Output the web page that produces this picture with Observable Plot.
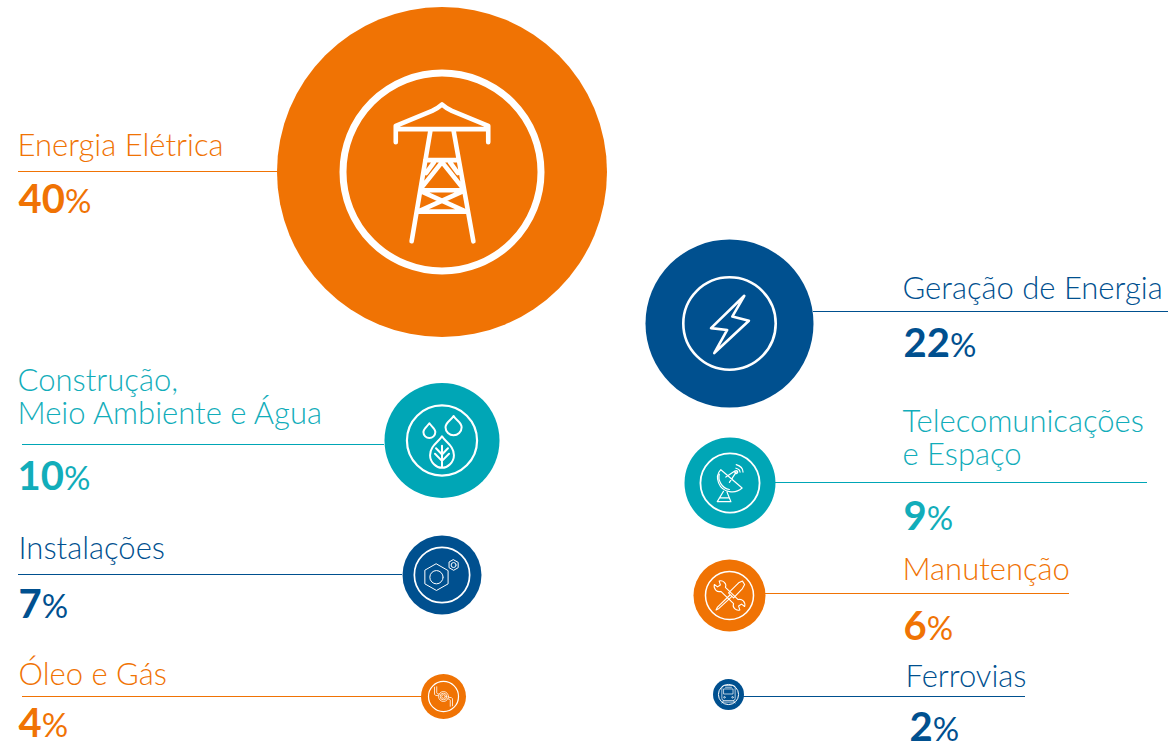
<!DOCTYPE html>
<html><head><meta charset="utf-8">
<style>html,body{margin:0;padding:0;background:#fff}svg{display:block}</style>
<script src="https://cdn.jsdelivr.net/npm/d3@7"></script>
<script src="https://cdn.jsdelivr.net/npm/@observablehq/plot@0.6"></script>
</head><body><div id="chart"></div>
<script>
// Data
const categories = ["Energia Elétrica","Geração de Energia","Construção,\nMeio Ambiente e Água","Telecomunicações\ne Espaço","Instalações","Manutenção","Óleo e Gás","Ferrovias"];
const shares = [40,22,10,9,7,6,4,2];
const orange="#F07304", navy="#00508F", teal="#00A6B6";
const colors = [orange,navy,teal,teal,navy,orange,orange,navy];
const textColors = [orange,navy,"#12ADBA","#12ADBA",navy,orange,orange,navy];

// Layout (not data): the infographic places each bubble by hand
const layout = {
  cx:[441.5,729,441.5,729.5,441.5,729,443,728],
  cy:[171.5,323,440,482.5,574.5,595,696,694],
  ruleFrom:[18,813,22,775,18,765,22,743],
  ruleTo:[277,1168,384,1147,402,1069,421,1025],
  ruleY:[171,311,444,482,574,593,696,696],
  labelX:[17,902,17,902,18,902,18,905],
  labelY:[155,298,423,464,558,579,684,686],
  valueX:[18,903,17,903,18,903,18,909],
  valueY:[212,356,489,529,617,639,736,740],
  ringRatio:[.6,.55,.61,.65,.7,.667,.667,.65],
  ringWidth:[7,2.6,2.2,1.8,1.7,1.5,1.2,1],
  iconWidth:[4.6,2.6,2,1.2,1,1.1,.8,.7]
};
const radiusDomain=[2,4,6,7,9,10,22,40], radiusRange=[15.5,22.5,36,39.5,45.5,57.5,84,165];

// Icon outlines in units where the inner ring has radius 100
const icons = [
 "M-46.7,-30L-46.7,-46.7L-10,-61.7Q-5,-64 0,-68.3Q5,-64 10,-61.7L46.7,-46.7L46.7,-30M-46.7,-43.3L46.7,-43.3M-11.7,-41.7L-30.7,70M11.7,-41.7L31.7,70M-17,-12L17,-12M-20,15L0,-10L20,15M-16,1L-8,-10M16,1L8,-10M-22,18.5L22,18.5M-22,19L22,39M22,19L-22,39M-25,40L25,40",
 "M32,-60L-40,10L-5,14L-33,64L42,-6L6,-15Z",
 "M-36,-49C-30,-40 -19,-34 -19,-24C-19,-14 -27,-7 -36,-7C-45,-7 -53,-14 -53,-24C-53,-34 -42,-40 -36,-49ZM33,-70C40,-58 56,-52 56,-38C56,-25 45,-15 33,-15C21,-15 10,-25 10,-38C10,-52 26,-58 33,-70ZM0,-12C10,5 34,15 34,42C34,62 16,78 0,78C-16,78 -34,62 -34,42C-34,15 -10,5 0,-12ZM0,15L0,78M0,40L-17,22M0,40L17,22M0,58L-20,38M0,58L20,38",
 "M-31,-45C-55,-20 -37,24 -2,29C15,33 32,25 41,17ZM-36,-30C-42,-10 -28,18 -2,22M-2,-2L21,-37M-14,-20L15,-40M21,-62Q44,-55 44,-37M20,-50Q33,-47 34,-37M-22,28L-43,63L3,63L-10,31M-36,50L-5,50O21,-37,5",
 "M-20,-40L22,-16L22,32L-20,56L-62,32L-62,-16ZO-20,8,24M42,-55L58.5,-45.5L58.5,-26.5L42,-17L25.5,-26.5L25.5,-45.5ZO42,-36,9",
 "M-36,-17C-52,-12 -68,-28 -63,-46L-50,-36L-38,-44L-43,-60C-27,-65 -10,-50 -17,-34L36,17C52,12 68,28 63,46L50,36L38,44L43,60C27,65 10,50 17,34ZM38,-53L54,-60L63,-46L54,-29L17,10L-4,-11ZM2,-2L-50,48L-56,60L-44,54L8,6",
 "O0,0,12O0,0,22O0,0,33M-60,-62L-60,-15Q-60,-5 -35,-5M-45,-65L-45,-25Q-45,-18 -30,-15M60,62L60,15Q60,5 35,5M45,65L45,25Q45,18 30,15",
 "M-66,-70Q-66,-90 -46,-90L46,-90Q66,-90 66,-70L66,40Q66,60 46,60L-46,60Q-66,60 -66,40ZM-45,-55L45,-55L45,-5L-45,-5ZM-30,-72L30,-72M-50,60L-65,85M50,60L65,85M-55,75L55,75O-40,28,8O40,28,8"
];

function drawPath(context, d, s) {
  for (const [, c, args] of d.matchAll(/([MLCQZO])([^MLCQZO]*)/g)) {
    const a = args.trim().split(/[\s,]+/).filter(Boolean).map(v => +v * s);
    if (c === "M") context.moveTo(a[0], a[1]);
    else if (c === "L") context.lineTo(a[0], a[1]);
    else if (c === "C") context.bezierCurveTo(...a);
    else if (c === "Q") context.quadraticCurveTo(...a);
    else if (c === "Z") context.closePath();
    else if (c === "O") { context.moveTo(a[0] + a[2], a[1]); context.arc(a[0], a[1], a[2], 0, 2 * Math.PI); }
  }
}
const iconSymbol = (d, ratio) => ({draw(context, size) { drawPath(context, d, Math.sqrt(size / Math.PI) * ratio / 100); }});
const ringSymbol = (ratio) => ({draw(context, size) { const r = Math.sqrt(size / Math.PI) * ratio; context.moveTo(r, 0); context.arc(0, 0, r, 0, 2 * Math.PI); }});

const rows = categories.map((name, i) => ({name, share: shares[i], color: colors[i], textColor: textColors[i],
  cx: layout.cx[i], cy: layout.cy[i], from: layout.ruleFrom[i], to: layout.ruleTo[i], ry: layout.ruleY[i],
  lx: layout.labelX[i], ly: layout.labelY[i], vx: layout.valueX[i], vy: layout.valueY[i]}));

const splitPercent = (index, scales, values, dimensions, context, next) => {
  const g = next(index, scales, values, dimensions, context);
  d3.select(g).selectAll("text").each(function () {
    const t = this.textContent.replace("%", "");
    this.textContent = "";
    d3.select(this).append("tspan").attr("font-weight", 700).text(t);
    d3.select(this).append("tspan").attr("font-weight", 400).attr("font-size", 33).text("%");
  });
  return g;
};

const chart = Plot.plot({
  width: 1173, height: 741, margin: 0,
  style: {background: "#fff"},
  x: {domain: [0, 1173], range: [0, 1173], axis: null},
  y: {domain: [0, 741], range: [0, 741], axis: null},
  r: {type: "linear", domain: radiusDomain, range: radiusRange},
  marks: [
    Plot.ruleY(rows, {y: "ry", x1: "from", x2: "to", stroke: "color", strokeWidth: 1}),
    Plot.dot(rows, {x: "cx", y: "cy", r: "share", fill: "color"}),
    ...rows.map((row, i) => Plot.dot([row], {x: "cx", y: "cy", r: "share", stroke: "#fff", fill: "none",
      strokeWidth: layout.ringWidth[i], symbol: ringSymbol(layout.ringRatio[i])})),
    ...rows.map((row, i) => Plot.dot([row], {x: "cx", y: "cy", r: "share", stroke: "#fff", fill: "none",
      strokeWidth: layout.iconWidth[i], strokeLinejoin: "round", strokeLinecap: "round",
      symbol: iconSymbol(icons[i], layout.ringRatio[i])})),
    Plot.text(rows, {x: "lx", y: "ly", text: "name", fill: "textColor", textAnchor: "start", lineAnchor: "bottom",
      fontFamily: "Lato", fontSize: 31, fontWeight: 300, lineHeight: 1.04}),
    Plot.text(rows, {x: "vx", y: "vy", text: d => d.share + "%", fill: "textColor", textAnchor: "start", lineAnchor: "bottom",
      fontFamily: "Lato", fontSize: 40, render: splitPercent})
  ]
});
document.getElementById("chart").append(chart);
</script></body></html>
